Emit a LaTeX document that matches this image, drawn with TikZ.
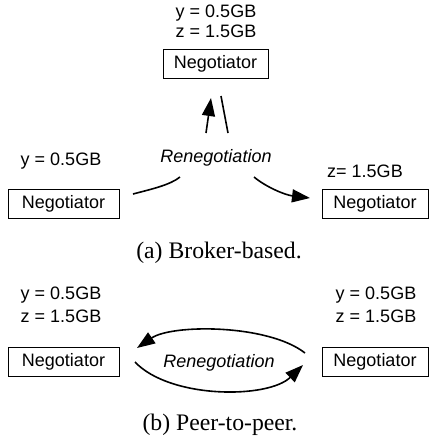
\documentclass[tikz,border=0pt]{standalone}
\usepackage{fontspec}
\setmainfont{Liberation Serif}
\setsansfont{Liberation Sans}
\usetikzlibrary{arrows.meta}
\begin{document}
\begin{tikzpicture}[x=0.5pt,y=-0.5pt,
 lbl/.style={font=\sffamily\fontsize{9}{10}\selectfont, inner sep=0, anchor=base},
 ital/.style={font=\sffamily\itshape\fontsize{9}{10}\selectfont, inner sep=0, anchor=base},
 negbox/.style={draw, line width=0.5pt, font=\sffamily\fontsize{9}{10}\selectfont, minimum height=14.5pt, inner sep=0},
 captext/.style={font=\fontsize{11.85}{13}\selectfont, inner sep=0, anchor=base},
 arr/.style={line width=0.8pt, -{Triangle[length=9pt,width=6.5pt]}},
 ln/.style={line width=0.8pt}]
\fill[white] (0,0) rectangle (430,440);
\useasboundingbox (0,0) rectangle (430,440);
% ---------- (a) broker-based ----------
\node[lbl] (ty) at (216,17) {y = 0.5GB};
\node[lbl] (tz) at (216,37) {z = 1.5GB};
\node[negbox, minimum width=52.5pt] (top) at (215.5,64) {Negotiator};
\coordinate (upA) at (206,133);
\coordinate (upB) at (211,98);
\coordinate (dnA) at (221,96);
\coordinate (dnB) at (228,133);
\draw[arr] (upA) -- (upB);
\draw[ln] (dnA) -- (dnB);

\node[lbl] (ly) at (61,165) {y = 0.5GB};
\node[ital] (ren1) at (216,162) {Renegotiation};
\node[lbl] (rz) at (365,177) {z= 1.5GB};
\node[negbox, minimum width=55.5pt] (left) at (63.5,204) {Negotiator};
\node[negbox, minimum width=53pt] (right) at (375,204) {Negotiator};
\coordinate (l1) at (133,194);
\coordinate (l2) at (180,177);
\coordinate (r1) at (254,177);
\coordinate (r2) at (310,198);
\draw[ln] (l1) .. controls (152,189) and (170,185) .. (l2);
\draw[arr] (r1) .. controls (266,187) and (285,195) .. (r2);
\node[captext] (capa) at (219,258) {(a) Broker-based.};

% ---------- (b) peer-to-peer ----------
\node[lbl] (by1) at (61,299) {y = 0.5GB};
\node[lbl] (bz1) at (61,322) {z = 1.5GB};
\node[lbl] (by2) at (376,299) {y = 0.5GB};
\node[lbl] (bz2) at (376,322) {z = 1.5GB};
\node[negbox, minimum width=55.5pt] (bleft) at (63.5,362) {Negotiator};
\node[negbox, minimum width=53pt] (bright) at (375,362) {Negotiator};
\node[ital] (ren2) at (219,367) {Renegotiation};
\coordinate (a1) at (305,353);
\coordinate (a2) at (137,348);
\coordinate (b1) at (135,362);
\coordinate (b2) at (303,365);
\draw[arr] (a1) .. controls (268,324) and (172,324) .. (a2);
\draw[arr] (b1) .. controls (170,399) and (268,399) .. (b2);
\node[captext] (capb) at (220,430) {(b) Peer-to-peer.};
\end{tikzpicture}
\end{document}
